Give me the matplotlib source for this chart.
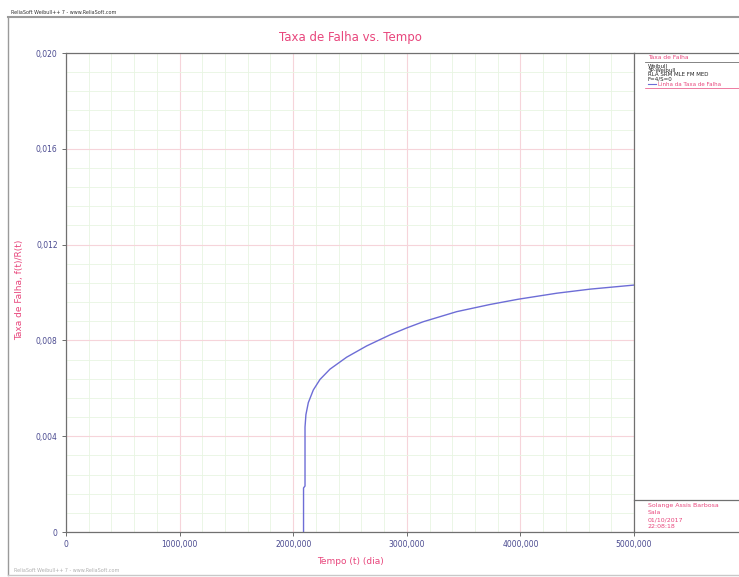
import matplotlib.pyplot as plt
from matplotlib.lines import Line2D
import numpy as np

# failure rate line read from the Weibull++ plot
tempo = [2091, 2091, 2104, 2104, 2112, 2133, 2177, 2236, 2324, 2471, 2647, 2852,
         2999, 3145, 3439, 3733, 3982, 4320, 4613, 5000]
taxa = [0.0, 0.00184, 0.00192, 0.00438, 0.00490, 0.00540, 0.00593, 0.00637, 0.00680,
        0.00730, 0.00777, 0.00823, 0.00852, 0.00878, 0.00920, 0.00950,
        0.00972, 0.00997, 0.01014, 0.01031]

xticks = [0, 1000, 2000, 3000, 4000, 5000]
xlabels = ['0', '1000,000', '2000,000', '3000,000', '4000,000', '5000,000']
yticks = [0, 0.004, 0.008, 0.012, 0.016, 0.020]
ylabels = ['0', '0,004', '0,008', '0,012', '0,016', '0,020']

info_lines = ['Weibull', '3P-Weibull', 'RLA SRM MLE FM MED', 'F=4/S=0']
user_lines = ['Solange Assis Barbosa', 'Sala', '01/10/2017', '22:08:18']

pink = '#e8467c'
tickc = '#4a4a90'
curve = '#6d6dd6'

W, H = 739, 577
fig = plt.figure(figsize=(W / 100, H / 100), dpi=100)

def fx(px):
    return px / W

def fy(py):
    return 1 - py / H

ax = fig.add_axes([fx(66), fy(532), (634 - 66) / W, (532 - 53) / H])
ax.set_xlim(0, 5000)
ax.set_ylim(0, 0.020)

# minor grid (green) under major grid (pink)
ax.set_xticks(np.arange(0, 5001, 200), minor=True)
ax.set_yticks(np.arange(0, 0.0201, 0.0008), minor=True)
ax.grid(which='minor', color='#e8f5e2', lw=0.6)
ax.grid(which='major', color='#f6d4da', lw=0.8)
ax.set_axisbelow(True)

ax.plot(tempo, taxa, color=curve, lw=1.0)

ax.set_xticks(xticks)
ax.set_xticklabels(xlabels)
ax.set_yticks(yticks)
ax.set_yticklabels(ylabels)
ax.tick_params(which='major', labelsize=5.5, colors='#555555', labelcolor=tickc,
               length=3, width=0.6, pad=3)
ax.tick_params(which='minor', length=0)
for s in ax.spines.values():
    s.set_color('#707070')
    s.set_linewidth(0.9)

fig.text(fx(350), fy(38), 'Taxa de Falha vs. Tempo', color=pink, fontsize=8.5,
         ha='center', va='center')
fig.text(fx(350), fy(562), 'Tempo (t) (dia)', color=pink, fontsize=6.5,
         ha='center', va='center')
fig.text(fx(20), fy(290), 'Taxa de Falha, f(t)/R(t)', color=pink, fontsize=6.5,
         ha='center', va='center', rotation=90)

# frame of the whole sheet
frame = '#9a9a9a'
fig.add_artist(Line2D([fx(8), fx(739)], [fy(17), fy(17)], color=frame, lw=1.5))
fig.add_artist(Line2D([fx(8), fx(8)], [fy(17), fy(575)], color=frame, lw=1.0))
fig.add_artist(Line2D([fx(8), fx(739)], [fy(575), fy(575)], color='#c8c8c8', lw=1.0))
fig.text(fx(11), fy(13), 'ReliaSoft Weibull++ 7 - www.ReliaSoft.com',
         fontsize=3.5, color='#333333', va='center')
fig.text(fx(14), fy(570), 'ReliaSoft Weibull++ 7 - www.ReliaSoft.com',
         fontsize=3.5, color='#b0b0b0', va='center')

# legend box on the right
fig.add_artist(Line2D([fx(634), fx(739)], [fy(53), fy(53)], color='#707070', lw=0.9))
fig.text(fx(648), fy(57.5), 'Taxa de Falha', color=pink, fontsize=4.3, va='center')
fig.add_artist(Line2D([fx(645), fx(739)], [fy(62), fy(62)], color='#707070', lw=0.6))
for i, t in enumerate(info_lines):
    fig.text(fx(648), fy(66 + 4.4 * i), t, color='#222222', fontsize=4.0, va='center')
fig.add_artist(Line2D([fx(648), fx(656)], [fy(84), fy(84)], color=curve, lw=0.8))
fig.text(fx(658), fy(84), 'Linha da Taxa de Falha', color=pink, fontsize=4.0, va='center')
fig.add_artist(Line2D([fx(645), fx(739)], [fy(88), fy(88)], color=pink, lw=0.5))

# user info box, bottom right
fig.add_artist(Line2D([fx(634), fx(739)], [fy(500), fy(500)], color='#707070', lw=0.9))
for i, t in enumerate(user_lines):
    fig.text(fx(648), fy(505 + 7.3 * i), t, color=pink, fontsize=4.5, va='center')
fig.add_artist(Line2D([fx(634), fx(739)], [fy(532), fy(532)], color='#707070', lw=0.9))

fig.savefig('out.png', dpi=100)
